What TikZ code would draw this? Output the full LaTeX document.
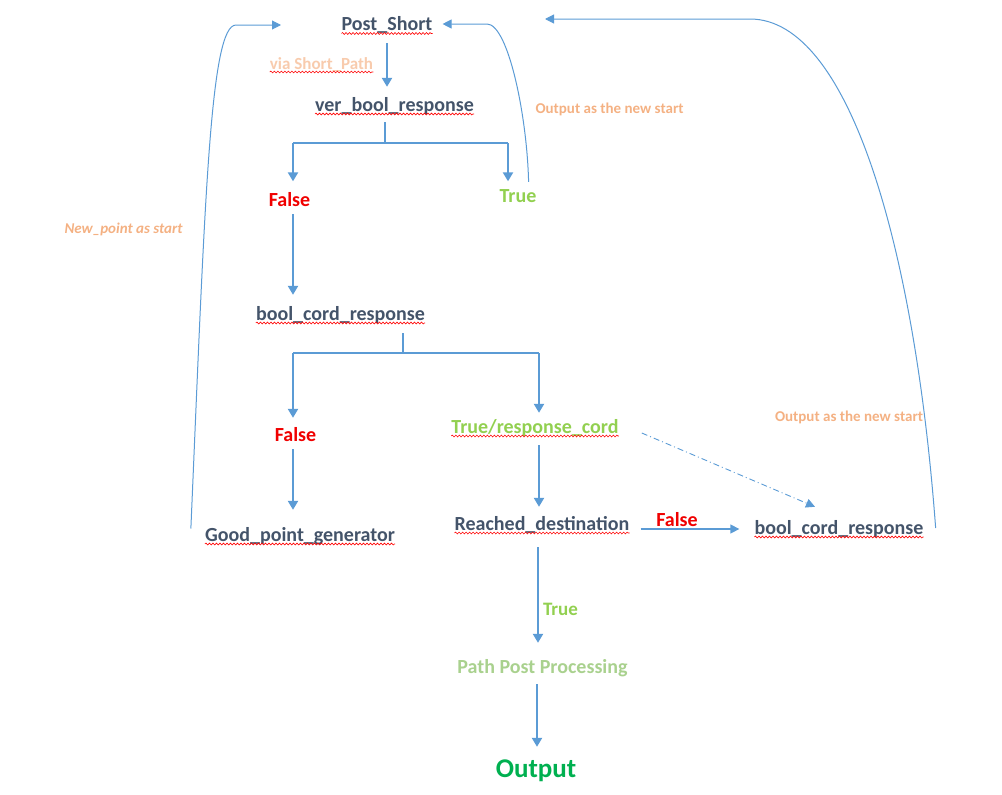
\documentclass[tikz,border=0pt]{standalone}
\usepackage{fontspec}
\setmainfont{Carlito}
\usetikzlibrary{arrows.meta,calc,decorations.pathmorphing}
\definecolor{lineblue}{HTML}{5B9BD5}
\definecolor{txtdark}{HTML}{44546A}
\definecolor{fred}{HTML}{F00000}
\definecolor{tgreen}{HTML}{92D050}
\definecolor{pgreen}{HTML}{A9D18E}
\definecolor{ogreen}{HTML}{00B050}
\definecolor{orng}{HTML}{F4B183}
\definecolor{orngl}{HTML}{F8CBAD}
\newlength\prefw
\newcommand\sqline[1]{\draw[squig] ([yshift=-3pt]#1.base west) -- ([yshift=-3pt]#1.base east);}
\tikzset{
  lbl/.style={inner sep=0pt, anchor=base, font=\bfseries\fontsize{20}{24}\selectfont, text height=14pt, text depth=5pt},
  mainlbl/.style={lbl, text=txtdark},
  falselbl/.style={lbl, text=fred},
  truelbl/.style={lbl, text=tgreen},
  notelbl/.style={inner sep=0pt, anchor=base, text=orng, font=\bfseries\fontsize{15}{18}\selectfont},
  arr/.style={draw=lineblue, line width=2.2pt, -{Triangle[length=9pt,width=10pt]}},
  ln/.style={draw=lineblue, line width=2.2pt},
  midarr/.style={draw=lineblue, line width=1.3pt, -{Triangle[length=9pt,width=9pt]}},
  carr/.style={draw=lineblue, line width=1pt, -{Triangle[length=9pt,width=9pt]}},
  dotarr/.style={draw=lineblue, line width=0.9pt, dash pattern=on 6pt off 3pt on 1pt off 3pt, -{Triangle[length=9pt,width=9pt]}},
  squig/.style={draw=red, line width=0.6pt, decorate, decoration={snake, segment length=3.5pt, amplitude=0.9pt}}
}
\begin{document}
\begin{tikzpicture}[x=1pt,y=-1pt]
\useasboundingbox (0,0) rectangle (1002,795);
% nodes
\node[mainlbl] (ps) at (387,30.5) {Post\_Short};
\node[notelbl, text=orngl, font=\bfseries\fontsize{17}{20}\selectfont] (via) at (321.5,69) {via Short\_Path};
\node[mainlbl] (vbr) at (394.5,111) {ver\_bool\_response};
\node[falselbl] (f1) at (289.5,206) {False};
\node[truelbl] (t1) at (518,202) {True};
\node[notelbl] (o1) at (609.5,113) {Output as the new start};
\node[notelbl, font=\bfseries\itshape\fontsize{15}{18}\selectfont] (np) at (123.5,233.5) {New\_point as start};
\node[mainlbl] (bcr) at (340.5,320) {bool\_cord\_response};
\node[falselbl] (f2) at (295.5,441) {False};
\node[truelbl] (t2) at (535,433) {True/response\_cord};
\node[mainlbl] (gpg) at (300,541) {Good\_point\_generator};
\node[mainlbl] (rd) at (542,530) {Reached\_destination};
\node[falselbl] (f3) at (677,526) {False};
\node[mainlbl] (bcr2) at (839,534) {bool\_cord\_response};
\node[notelbl] (o2) at (849,421.5) {Output as the new start};
\node[truelbl, font=\bfseries\fontsize{19}{23}\selectfont] (t3) at (560.5,615.5) {True};
\node[lbl, text=pgreen] (ppp) at (542.5,673.5) {Path Post Processing};
\node[inner sep=0pt, anchor=base, text=ogreen, font=\bfseries\fontsize{27}{32}\selectfont, text height=19pt, text depth=6pt] (out) at (536,777) {Output};
% spell-check squiggles
\sqline{ps}
\sqline{vbr}
\sqline{bcr}
\sqline{gpg}
\sqline{rd}
\sqline{bcr2}
\settowidth\prefw{\bfseries\fontsize{17}{20}\selectfont via }
\draw[squig] ([xshift=\prefw,yshift=-3pt]via.base west) -- ([yshift=-3pt]via.base east);
\settowidth\prefw{\bfseries\fontsize{20}{24}\selectfont True/}
\draw[squig] ([xshift=\prefw,yshift=-3pt]t2.base west) -- ([yshift=-3pt]t2.base east);
\settowidth\prefw{\bfseries\itshape\fontsize{15}{18}\selectfont New\_point}
\draw[squig] ([yshift=-3pt]np.base west) -- ([xshift=\prefw,yshift=-3pt]np.base west);
% junctions and free ends
\coordinate (j1) at (385,143);
\coordinate (j1L) at (293,143);
\coordinate (j1R) at (508,143);
\coordinate (j2) at (403,353);
\coordinate (j2L) at (293,353);
\coordinate (j2R) at (539,353);
\coordinate (lend) at (281,25);
\coordinate (rend) at (545,19);
% connectors
\draw[arr] ($(ps.south)+(0,7.5)$) -- ($(ps.south |- vbr.north)+(0,-10)$);
\draw[ln] ($(vbr.south -| j1)+(0,6)$) -- (j1);
\draw[ln] (j1L) -- (j1R);
\draw[arr] (j1L) -- ($(j1L |- f1.north)+(0,-10.5)$);
\draw[arr] (j1R) -- ($(j1R |- t1.north)+(0,-6.5)$);
\draw[arr] ($(j1L |- f1.south)+(0,3)$) -- ($(j1L |- bcr.north)+(0,-11)$);
\draw[ln] ($(bcr.south -| j2)+(0,8)$) -- (j2);
\draw[ln] (j2L) -- (j2R);
\draw[arr] (j2L) -- ($(j2L |- f2.north)+(0,-9)$);
\draw[arr] (j2R) -- ($(j2R |- t2.north)+(0,-6)$);
\draw[arr] ($(j2L |- f2.south)+(0,3)$) -- ($(j2L |- gpg.north)+(0,-17)$);
\draw[arr] ($(j2R |- t2.south)+(0,7)$) -- ($(j2R |- rd.north)+(0,-9)$);
\draw[midarr] ($(rd.base east)+(11,-1)$) -- ($(bcr2.west |- rd.base east)+(-15,-1)$);
\draw[dotarr] ($(t2.base east)+(23,0)$) -- ($(bcr2.north)+(-24,-13)$);
\draw[arr] ($(rd.south)+(-4,12)$) -- ($(rd.south |- ppp.north)+(-4,-16.5)$);
\draw[arr] ($(ppp.south)+(-5.5,5.5)$) -- ($(ppp.south |- out.north)+(-5.5,-11)$);
% curved feedback connectors
\draw[carr] ($(gpg.west)+(-14,-8)$) .. controls (205,200) and (210,25) .. (236,25) -- (lend);
\draw[carr] ($(t1.north east)+(-8,-6)$) .. controls (527,115) and (508,24) .. (487,24) -- ($(ps.east)+(10,-2)$);
\draw[carr] ($(bcr2.east)+(12,-1.5)$) .. controls (915,250) and (850,19) .. (750,19) -- (rend);
\end{tikzpicture}
\end{document}
